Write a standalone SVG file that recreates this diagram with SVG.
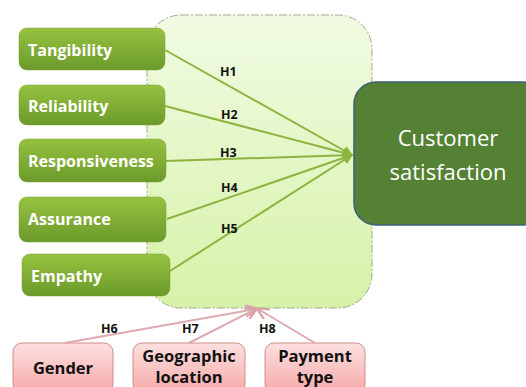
<svg xmlns="http://www.w3.org/2000/svg" width="526" height="387" viewBox="0 0 526 387">
<defs>
<linearGradient id="gg" x1="0" y1="0" x2="0" y2="1"><stop offset="0" stop-color="#96c23f"/><stop offset="1" stop-color="#6b9a2b"/></linearGradient>
<linearGradient id="bg" x1="0" y1="0" x2="0" y2="1"><stop offset="0" stop-color="#f1fbe3"/><stop offset="1" stop-color="#d6f2a8"/></linearGradient>
<linearGradient id="pg" x1="0" y1="0" x2="0" y2="1"><stop offset="0" stop-color="#fde0e0"/><stop offset="1" stop-color="#f6a9a9"/></linearGradient>
<marker id="ag" viewBox="0 0 10 10" refX="9" refY="5" markerWidth="5" markerHeight="5" orient="auto"><path d="M0,0 L10,5 L0,10 z" fill="#8db43f"/></marker>
<marker id="ap" viewBox="0 0 10 10" refX="9" refY="5" markerWidth="6" markerHeight="6" orient="auto"><path d="M0,0 L10,5 L0,10" fill="none" stroke="#d9a3a8" stroke-width="2"/></marker>
</defs>
<style>
.gb rect{fill:url(#gg);stroke:#7aa035;stroke-width:0.5}
.gb text{fill:#fff;font-family:"Open Sans","Liberation Sans",sans-serif;font-weight:bold;font-size:16px}
.pb rect{fill:url(#pg);stroke:#d08c8c;stroke-width:1}
.pb text{fill:#111;font-family:"Open Sans","Liberation Sans",sans-serif;font-weight:bold;font-size:16.5px;text-anchor:middle}
.lbl{fill:#111;font-family:"Open Sans","Liberation Sans",sans-serif;font-weight:bold;font-size:12.5px}
.cg{stroke:#8db43f;stroke-width:2;fill:none}
.cp{stroke:#dcaab0;stroke-width:2;fill:none}
</style>
<g id="mediator">
<rect x="147" y="15" width="225" height="293" rx="34" fill="url(#bg)" stroke="#a8a890" stroke-width="1" stroke-dasharray="8,2,2,2"/>
</g>
<g id="customer-satisfaction">
<rect x="354" y="82" width="190" height="143" rx="22" fill="#558134" stroke="#3f5f78" stroke-width="1.5"/>
<text x="448" y="146" fill="#fff" font-family="Open Sans, Liberation Sans, sans-serif" font-size="22" text-anchor="middle">Customer</text>
<text x="448" y="180" fill="#fff" font-family="Open Sans, Liberation Sans, sans-serif" font-size="22" text-anchor="middle">satisfaction</text>
</g>
<g id="tangibility" class="gb"><rect x="19" y="28" width="146" height="42" rx="8"/><text x="28" y="56">Tangibility</text></g>
<g id="reliability" class="gb"><rect x="19" y="85" width="146" height="40" rx="8"/><text x="28" y="112">Reliability</text></g>
<g id="responsiveness" class="gb"><rect x="19" y="139" width="147" height="43" rx="8"/><text x="28" y="167">Responsiveness</text></g>
<g id="assurance" class="gb"><rect x="19" y="197" width="147" height="45" rx="8"/><text x="28" y="225">Assurance</text></g>
<g id="empathy" class="gb"><rect x="22" y="254" width="148" height="42" rx="8"/><text x="31" y="282">Empathy</text></g>
<g id="gender" class="pb"><rect x="13" y="343" width="100" height="50" rx="9"/><text x="63" y="374">Gender</text></g>
<g id="geographic-location" class="pb"><rect x="133" y="343" width="112" height="50" rx="9"/><text x="189" y="362">Geographic</text><text x="189" y="383">location</text></g>
<g id="payment-type" class="pb"><rect x="265" y="343" width="100" height="50" rx="9"/><text x="315" y="362">Payment</text><text x="315" y="383">type</text></g>
<g id="connectors">
<path class="cg" d="M165,50 L352,155" marker-end="url(#ag)"/>
<path class="cg" d="M165,106 L352,155" marker-end="url(#ag)"/>
<path class="cg" d="M166,161 L352,155" marker-end="url(#ag)"/>
<path class="cg" d="M167,219 L352,155" marker-end="url(#ag)"/>
<path class="cg" d="M170,271 L352,155" marker-end="url(#ag)"/>
<path class="cp" d="M65,343 L256,309" marker-end="url(#ap)"/>
<path class="cp" d="M189,343 L256,309" marker-end="url(#ap)"/>
<path class="cp" d="M315,343 L258,309" marker-end="url(#ap)"/>
<text class="lbl" x="220" y="76">H1</text>
<text class="lbl" x="221" y="119">H2</text>
<text class="lbl" x="220" y="157">H3</text>
<text class="lbl" x="221" y="192">H4</text>
<text class="lbl" x="221" y="233">H5</text>
<text class="lbl" x="101" y="333">H6</text>
<text class="lbl" x="182" y="333">H7</text>
<text class="lbl" x="259" y="333">H8</text>
</g>
</svg>
